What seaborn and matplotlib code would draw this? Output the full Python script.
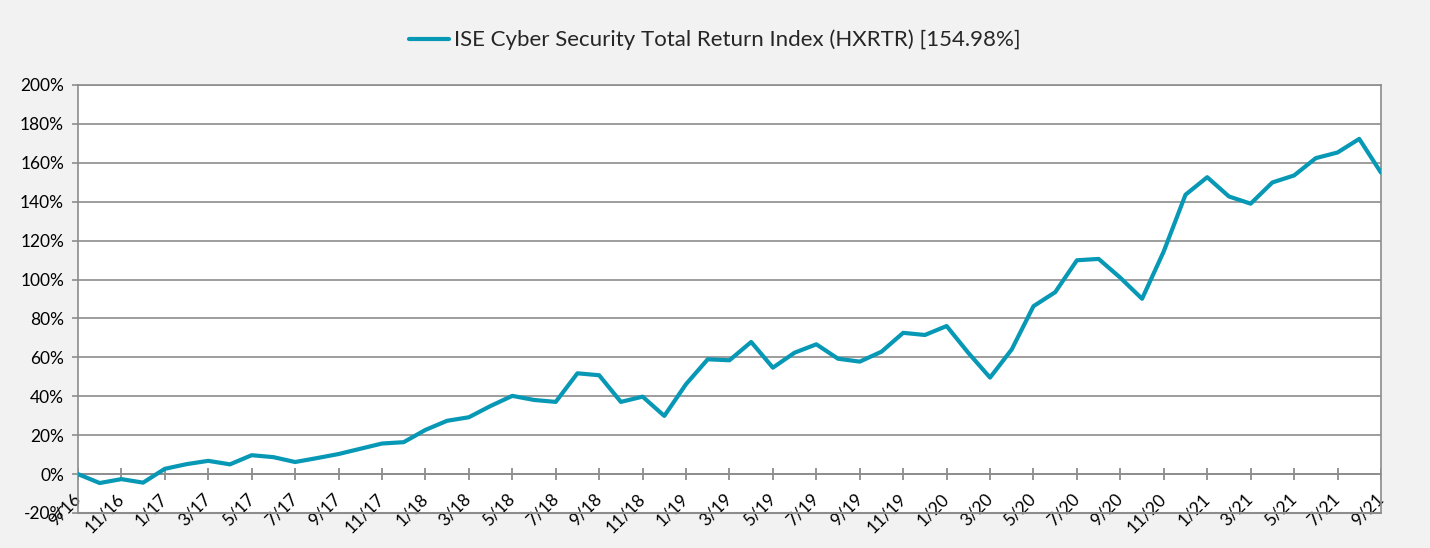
import pandas as pd
import matplotlib.pyplot as plt
import seaborn as sns
import numpy as np
from matplotlib.ticker import FuncFormatter

# monthly cumulative total return, 9/16 .. 9/21 (in %)
returns = [0.0, -4.6, -2.6, -4.4, 2.7, 5.1, 6.8, 5.0, 9.7, 8.7,
           6.2, 8.2, 10.3, 13.0, 15.7, 16.4, 22.7, 27.4, 29.2, 35.0,
           40.2, 38.1, 37.1, 51.8, 50.8, 37.1, 39.8, 29.9, 46.2, 59.0,
           58.5, 67.9, 54.7, 62.4, 66.7, 59.3, 57.8, 62.9, 72.6, 71.5,
           76.1, 62.3, 49.6, 64.1, 86.3, 93.5, 109.9, 110.6, 100.9, 90.1,
           114.5, 143.6, 152.6, 142.7, 139.0, 149.9, 153.5, 162.4, 165.3, 172.3,
           154.98]

tick_labels = ['9/16', '11/16', '1/17', '3/17', '5/17', '7/17', '9/17', '11/17',
               '1/18', '3/18', '5/18', '7/18', '9/18', '11/18',
               '1/19', '3/19', '5/19', '7/19', '9/19', '11/19',
               '1/20', '3/20', '5/20', '7/20', '9/20', '11/20',
               '1/21', '3/21', '5/21', '7/21', '9/21']

series_name = 'ISE Cyber Security Total Return Index (HXRTR) [154.98%]'

df = pd.DataFrame({'month': np.arange(len(returns)), 'ret': returns})

sns.set_style('white')
plt.rcParams['font.family'] = ['Lato', 'DejaVu Sans']

grey = '#8c8c8c'
fig = plt.figure(figsize=(14.3, 5.48), dpi=100, facecolor='#f2f2f2')
ax = fig.add_axes([0.0545, 0.0639, 0.9112, 0.781])
ax.set_facecolor('white')

sns.lineplot(data=df, x='month', y='ret', ax=ax, color='#0798b5', linewidth=3,
             label=series_name, legend=False, zorder=3)

ax.set_xlim(0, len(returns) - 1)
ax.set_ylim(-20, 200)
ax.set_yticks(np.arange(-20, 201, 20))
ax.yaxis.set_major_formatter(FuncFormatter(lambda v, p: f'{v:.0f}%'))
ax.grid(axis='y', color=grey, linewidth=1.2)
ax.grid(axis='x', visible=False)
ax.set_xlabel('')
ax.set_ylabel('')

ax.set_xticks(np.arange(0, len(returns), 2))
ax.set_xticklabels(tick_labels)

# category axis crosses at 0%
ax.spines['bottom'].set_position(('data', 0))
for s in ax.spines.values():
    s.set_color(grey)
    s.set_linewidth(1.2)
ax.axhline(-20, color=grey, linewidth=1.5, clip_on=False)

# tick marks crossing the 0% line
ax.vlines(ax.get_xticks(), -3.3, 3.3, color=grey, linewidth=1.3, zorder=2.6)

ax.tick_params(axis='x', length=0, pad=16, labelsize=12.5, labelcolor='black')
ax.tick_params(axis='y', left=True, direction='out', length=4, width=1.2,
               color=grey, pad=6, labelsize=12.5, labelcolor='black')

for lab in ax.get_xticklabels():
    lab.set_rotation(45)
    lab.set_ha('right')
    lab.set_va('center')
    lab.set_rotation_mode('anchor')

handles, labels = ax.get_legend_handles_labels()
fig.legend(handles, labels, loc='center', bbox_to_anchor=(0.5, 0.927),
           frameon=False, fontsize=16, handlelength=1.8, handletextpad=0.2)

plt.savefig('out.png', dpi=100, facecolor=fig.get_facecolor())
